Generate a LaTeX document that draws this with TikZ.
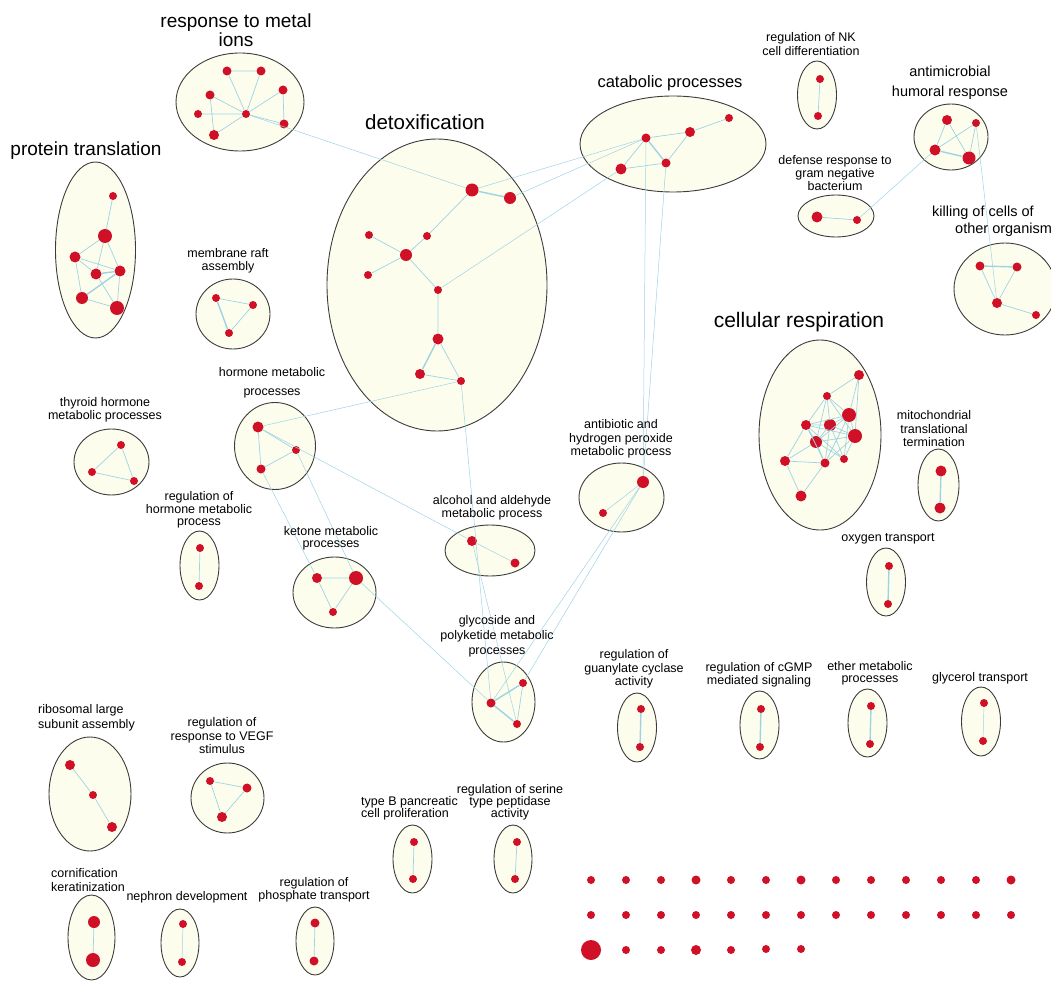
\documentclass[tikz,border=0pt]{standalone}
\usepackage{fontspec}
\setmainfont{Liberation Sans}
\definecolor{termred}{RGB}{207,16,38}
\definecolor{linkblue}{RGB}{158,211,230}
\definecolor{creamfill}{RGB}{253,253,237}
\definecolor{ringgray}{RGB}{60,60,60}
\tikzset{
    cluster/.style = {draw=ringgray, fill=creamfill, line width=0.9pt},
    link/.style = {draw=linkblue, line width=0.7pt},
    heavy link/.style = {link, line width=1.4pt},
    faint link/.style = {link, line width=0.5pt},
}
\tikzset{
    term/.style = {circle, fill=termred, inner sep=0pt, minimum size=#1},
    term/.default = 8pt,
    lbl/.style = {align=center, inner sep=0pt, font=\fontsize{12.5}{13.5}\selectfont},
    head/.style = {align=center, inner sep=0pt, font=\fontsize{#1}{#1}\selectfont},
}

\begin{document}
\begin{tikzpicture}[x=1pt, y=-1pt]
            \clip (0, 0) rectangle (1051, 981);

            \draw[cluster] (240, 102) ellipse [x radius=64, y radius=49];
            \draw[cluster] (95.5, 250) ellipse [x radius=40, y radius=88];
            \draw[cluster] (233, 314) ellipse [x radius=37, y radius=35];
            \draw[cluster] (437, 285) ellipse [x radius=110, y radius=146];
            \draw[cluster] (673, 144) ellipse [x radius=93, y radius=48];
            \draw[cluster] (817, 95) ellipse [x radius=19.5, y radius=34];
            \draw[cluster] (951, 137) ellipse [x radius=37, y radius=33];
            \draw[cluster] (836, 216) ellipse [x radius=38, y radius=21];
            \draw[cluster] (1005, 289) ellipse [x radius=51, y radius=46];
            \draw[cluster] (820, 435) ellipse [x radius=61, y radius=95];
            \draw[cluster] (938.5, 485) ellipse [x radius=20.5, y radius=36];
            \draw[cluster] (886, 582) ellipse [x radius=19.5, y radius=34];
            \draw[cluster] (111.5, 462) ellipse [x radius=37.5, y radius=33];
            \draw[cluster] (275, 446) ellipse [x radius=40.5, y radius=43.5];
            \draw[cluster] (199.5, 565.5) ellipse [x radius=19.5, y radius=34.5];
            \draw[cluster] (334.5, 592.5) ellipse [x radius=41.5, y radius=35.5];
            \draw[cluster] (490, 550.5) ellipse [x radius=45, y radius=25.5];
            \draw[cluster] (621.5, 497.5) ellipse [x radius=42.5, y radius=34.5];
            \draw[cluster] (503.5, 702) ellipse [x radius=31.5, y radius=40];
            \draw[cluster] (90, 794) ellipse [x radius=41, y radius=57];
            \draw[cluster] (227.5, 798) ellipse [x radius=36.5, y radius=35];
            \draw[cluster] (91.5, 937.5) ellipse [x radius=23.5, y radius=42.5];
            \draw[cluster] (180, 943) ellipse [x radius=19, y radius=34];
            \draw[cluster] (315, 941) ellipse [x radius=19, y radius=34];
            \draw[cluster] (412.5, 859) ellipse [x radius=19.5, y radius=34];
            \draw[cluster] (513, 859) ellipse [x radius=19, y radius=34];
            \draw[cluster] (637, 727.5) ellipse [x radius=19.5, y radius=34.5];
            \draw[cluster] (759.5, 725) ellipse [x radius=19.5, y radius=34];
            \draw[cluster] (867.5, 723) ellipse [x radius=19.5, y radius=34];
            \draw[cluster] (981, 721.5) ellipse [x radius=19.5, y radius=34.5];

            \node[term=9pt] (m1) at (227, 71) {};
            \node[term=9pt] (m2) at (261, 71) {};
            \node[term=9pt] (m3) at (210, 95) {};
            \node[term=9pt] (m4) at (283, 90) {};
            \node[term] (m5) at (198, 114) {};
            \node[term] (m6) at (246, 114) {};
            \node[term=9pt] (m7) at (284, 124) {};
            \node[term=10pt] (m8) at (214, 135) {};

            \node[term] (p1) at (113, 196) {};
            \node[term=14pt] (p2) at (105, 236) {};
            \node[term=11pt] (p3) at (75, 257) {};
            \node[term=11pt] (p4) at (96, 274) {};
            \node[term=11pt] (p5) at (120, 271) {};
            \node[term=12pt] (p6) at (82, 298) {};
            \node[term=14pt] (p7) at (117, 308) {};

            \node[term] (r1) at (216, 298) {};
            \node[term] (r2) at (253, 305) {};
            \node[term] (r3) at (229, 333) {};

            \node[term=13pt] (d1) at (472, 190) {};
            \node[term=12pt] (d2) at (510, 198) {};
            \node[term] (d3) at (369, 235) {};
            \node[term] (d4) at (427, 236) {};
            \node[term=12pt] (d5) at (406, 255) {};
            \node[term] (d6) at (368, 275) {};
            \node[term] (d7) at (438, 290) {};
            \node[term=11pt] (d8) at (438, 339) {};
            \node[term=10pt] (d9) at (420, 374) {};
            \node[term] (d10) at (461, 381) {};

            \node[term] (c1) at (729, 118) {};
            \node[term=10pt] (c2) at (690, 132) {};
            \node[term=9pt] (c3) at (646, 138) {};
            \node[term=9pt] (c4) at (666, 163) {};
            \node[term=11pt] (c5) at (621, 169) {};

            \node[term] (k1) at (820, 79) {};
            \node[term] (k2) at (818, 116) {};

            \node[term=10pt] (a1) at (947, 120) {};
            \node[term] (a2) at (976, 123) {};
            \node[term=11pt] (a3) at (935, 150) {};
            \node[term=13pt] (a4) at (969, 158) {};

            \node[term=11pt] (g1) at (817, 217) {};
            \node[term] (g2) at (857, 220) {};

            \node[term=9pt] (o1) at (980, 266) {};
            \node[term=9pt] (o2) at (1017, 267) {};
            \node[term=10pt] (o3) at (997, 303) {};
            \node[term] (o4) at (1036, 315) {};

            \node[term=10pt] (s1) at (859, 375) {};
            \node[term] (s2) at (827, 396) {};
            \node[term=14pt] (s3) at (849, 415) {};
            \node[term=10pt] (s4) at (806, 425) {};
            \node[term=12pt] (s5) at (830, 425) {};
            \node[term=14pt] (s6) at (855, 436) {};
            \node[term=12pt] (s7) at (816, 442) {};
            \node[term=10pt] (s8) at (785, 461) {};
            \node[term=9pt] (s9) at (825, 463) {};
            \node[term] (s10) at (844, 459) {};
            \node[term=11pt] (s11) at (801, 496) {};

            \node[term=11pt] (t1) at (941, 471) {};
            \node[term=11pt] (t2) at (940, 508) {};

            \node[term] (x1) at (889, 566) {};
            \node[term] (x2) at (888, 604) {};

            \node[term] (h1) at (121, 445) {};
            \node[term] (h2) at (92, 472) {};
            \node[term] (h3) at (134, 481) {};

            \node[term=11pt] (e1) at (258, 427) {};
            \node[term] (e2) at (296, 450) {};
            \node[term=9pt] (e3) at (261, 469) {};

            \node[term] (q1) at (200, 548) {};
            \node[term] (q2) at (199, 586) {};

            \node[term=10pt] (n1) at (317, 578) {};
            \node[term=14pt] (n2) at (356, 578) {};
            \node[term] (n3) at (333, 612) {};

            \node[term=10pt] (l1) at (472, 541) {};
            \node[term=9pt] (l2) at (515, 563) {};

            \node[term=12pt] (b1) at (643, 482) {};
            \node[term] (b2) at (603, 513) {};

            \node[term=9pt] (y1) at (491, 703) {};
            \node[term] (y2) at (523, 683) {};
            \node[term] (y3) at (517, 724) {};

            \node[term=10pt] (u1) at (70, 765) {};
            \node[term] (u2) at (93, 795) {};
            \node[term=10pt] (u3) at (112, 827) {};

            \node[term] (v1) at (210, 781) {};
            \node[term=9pt] (v2) at (247, 788) {};
            \node[term=10pt] (v3) at (222, 817) {};

            \node[term=12pt] (w1) at (94, 922) {};
            \node[term=14pt] (w2) at (93, 960) {};
            \node[term] (f1) at (183, 924) {};
            \node[term] (f2) at (182, 962) {};
            \node[term=9pt] (z1) at (315, 923) {};
            \node[term=9pt] (z2) at (314, 961) {};
            \node[term] (i1) at (414, 842) {};
            \node[term] (i2) at (413, 879) {};
            \node[term] (j1) at (517, 842) {};
            \node[term] (j2) at (515, 879) {};

            \node[term] (gc1) at (641, 709) {};
            \node[term] (gc2) at (640, 747) {};
            \node[term] (cg1) at (761, 709) {};
            \node[term] (cg2) at (760, 747) {};
            \node[term] (et1) at (871, 706) {};
            \node[term] (et2) at (870, 744) {};
            \node[term] (gl1) at (984, 703) {};
            \node[term] (gl2) at (983, 741) {};

            \node[term] (iso1) at (591, 880) {};  \node[term] (iso2) at (626, 880) {};
            \node[term] (iso3) at (661, 880) {};  \node[term=9pt] (iso4) at (696, 880) {};
            \node[term] (iso5) at (731, 880) {};  \node[term] (iso6) at (766, 880) {};
            \node[term=9pt] (iso7) at (801, 880) {};  \node[term] (iso8) at (836, 880) {};
            \node[term] (iso9) at (871, 880) {};  \node[term] (iso10) at (906, 880) {};
            \node[term] (iso11) at (941, 880) {};  \node[term] (iso12) at (976, 880) {};
            \node[term=9pt] (iso13) at (1011, 880) {};
            \node[term] (iso14) at (591, 915) {};  \node[term] (iso15) at (626, 915) {};
            \node[term] (iso16) at (661, 915) {};  \node[term] (iso17) at (696, 915) {};
            \node[term] (iso18) at (731, 915) {};  \node[term] (iso19) at (766, 915) {};
            \node[term] (iso20) at (801, 915) {};  \node[term] (iso21) at (836, 915) {};
            \node[term] (iso22) at (871, 915) {};  \node[term] (iso23) at (906, 915) {};
            \node[term] (iso24) at (941, 915) {};  \node[term] (iso25) at (976, 915) {};
            \node[term] (iso26) at (1011, 915) {};
            \node[term=20pt] (iso27) at (591, 950) {};  \node[term] (iso28) at (626, 950) {};
            \node[term] (iso29) at (661, 950) {};  \node[term=10pt] (iso30) at (696, 950) {};
            \node[term] (iso31) at (731, 950) {};  \node[term] (iso32) at (766, 949) {};
            \node[term] (iso33) at (801, 949) {};

            \draw[faint link] (m6) -- (d1);
            \draw[faint link] (c3) -- (d1);
            \draw[faint link] (c3) -- (d2);
            \draw[faint link] (c5) -- (d7);
            \draw[faint link] (c3) -- (b1);
            \draw[faint link] (c4) -- (b1);
            \draw[faint link] (d10) -- (e1);
            \draw[faint link] (e1) -- (l1);
            \draw[faint link] (e3) -- (n1);
            \draw[faint link] (e2) -- (n2);
            \draw[faint link] (n2) -- (y1);
            \draw[faint link] (d10) -- (y1);
            \draw[faint link] (l1) -- (y3);
            \draw[faint link] (b1) -- (y1);
            \draw[faint link] (b1) -- (y2);
            \draw[faint link] (a2) -- (o3);
            \draw[faint link] (g2) -- (a3);

            \draw[link] (m1) -- (m2) -- (m6) -- (m1);
            \draw[link] (m3) -- (m6) -- (m5);
            \draw[link] (m3) -- (m8) -- (m6) -- (m4) -- (m7) -- (m6);

            \draw[link] (p1) -- (p2) -- (p3) -- (p5) -- (p2) -- (p4) -- (p3) -- (p6) -- (p7) -- (p5);
            \draw[link] (p4) -- (p7);
            \draw[heavy link] (p4) -- (p5) -- (p6);

            \draw[link] (r1) -- (r2) -- (r3);
            \draw[heavy link] (r3) -- (r1);

            \draw[heavy link] (d1) -- (d2);
            \draw[link] (d1) -- (d4) -- (d5) -- (d3);
            \draw[link] (d6) -- (d5) -- (d7) -- (d8) -- (d10) -- (d9);
            \draw[heavy link] (d8) -- (d9);

            \draw[link] (c1) -- (c2) -- (c3) -- (c5) -- (c4) -- (c2);
            \draw[heavy link] (c3) -- (c4);

            \draw[link] (k1) -- (k2);

            \draw[link] (a1) -- (a3);
            \draw[link] (a1) -- (a4) -- (a2) -- (a3);
            \draw[heavy link] (a3) -- (a4);

            \draw[link] (g1) -- (g2);

            \draw[heavy link] (o1) -- (o2);
            \draw[link] (o1) -- (o3) -- (o2);
            \draw[link] (o3) -- (o4);

            \draw[link] (s1) -- (s2) -- (s3) -- (s1) -- (s6) -- (s3);
            \draw[link] (s2) -- (s4) -- (s5) -- (s2) -- (s7) -- (s3) -- (s5) -- (s6) -- (s2);
            \draw[link] (s4) -- (s3) (s4) -- (s6) (s4) -- (s7) (s4) -- (s9) (s4) -- (s10);
            \draw[link] (s5) -- (s7) (s5) -- (s9) (s5) -- (s10) (s3) -- (s9) (s3) -- (s10);
            \draw[link] (s6) -- (s7) (s6) -- (s9) (s6) -- (s10) (s7) -- (s9) (s7) -- (s10);
            \draw[link] (s4) -- (s8) -- (s7) (s8) -- (s9) -- (s11) -- (s8);

            \draw[heavy link] (t1) -- (t2);
            \draw[heavy link] (x1) -- (x2);

            \draw[link] (h1) -- (h2) -- (h3) -- (h1);
            \draw[link] (e1) -- (e3) -- (e2) -- (e1);
            \draw[link] (q1) -- (q2);
            \draw[link] (n1) -- (n2) -- (n3) -- (n1);
            \draw[faint link] (l1) -- (l2);
            \draw[faint link] (b1) -- (b2);
            \draw[heavy link] (y2) -- (y1) -- (y3);
            \draw[link] (y2) -- (y3);

            \draw[link] (u1) -- (u2) -- (u3);
            \draw[link] (v1) -- (v2) -- (v3) -- (v1);
            \draw[link] (w1) -- (w2);
            \draw[faint link] (f1) -- (f2);
            \draw[link] (z1) -- (z2);
            \draw[link] (i1) -- (i2);
            \draw[link] (j1) -- (j2);
            \draw[heavy link] (gc1) -- (gc2);
            \draw[heavy link] (cg1) -- (cg2);
            \draw[heavy link] (et1) -- (et2);
            \draw[faint link] (gl1) -- (gl2);

            \node[head=19] (tMetal) at (236, 30) {response to metal\\ions};
            \node[head=19] (tProtein) at (86, 151) {protein translation};
            \node[head=20.5] (tDetox) at (425, 122) {detoxification};
            \node[head=16.5] (tCatab) at (670, 83) {catabolic processes};
            \node[head=21] (tResp) at (799, 322) {cellular respiration};
            \node[align=center, inner sep=0pt, font=\fontsize{14.5}{20}\selectfont] (tAnti) at (950, 83) {antimicrobial\\humoral response};
            \node[align=left, inner sep=0pt, anchor=west, font=\fontsize{14.5}{17}\selectfont] (tKill) at (932, 221) {killing of cells of\\\hspace*{23pt}other organism};

            \node[lbl] (tRaft) at (228, 261) {membrane raft\\assembly};
            \node[lbl] (tNK) at (811, 44) {regulation of NK\\cell differentiation};
            \node[lbl, font=\fontsize{12.5}{11}\selectfont] (tDefense) at (835, 173) {defense response to\\gram negative\\bacterium};
            \node[lbl] (tMito) at (934, 429) {mitochondrial\\translational\\termination};
            \node[lbl] (tOxy) at (888, 539) {oxygen transport};
            \node[lbl] (tThyroid) at (105, 410) {thyroid hormone\\metabolic processes};
            \node[lbl, font=\fontsize{12.5}{19}\selectfont] (tHormone) at (272, 383) {hormone metabolic\\processes};
            \node[lbl, font=\fontsize{12.5}{12.5}\selectfont] (tRegHorm) at (199, 510) {regulation of\\hormone metabolic\\process};
            \node[lbl, font=\fontsize{12.5}{12}\selectfont] (tKetone) at (331, 538) {ketone metabolic\\processes};
            \node[lbl, font=\fontsize{12.5}{10}\selectfont] (tAlcohol) at (492, 508) {alcohol and aldehyde\\metabolic process};
            \node[lbl] (tAntibio) at (621, 439) {antibiotic and\\hydrogen peroxide\\metabolic process};
            \node[lbl, font=\fontsize{12.5}{15}\selectfont] (tGlyco) at (497, 636) {glycoside and\\polyketide metabolic\\processes};
            \node[lbl, align=left, anchor=west, font=\fontsize{12.5}{15}\selectfont] (tRibo) at (38, 718) {ribosomal large\\subunit assembly};
            \node[lbl] (tVEGF) at (222, 736) {regulation of\\response to VEGF\\stimulus};
            \node[lbl, align=left, anchor=west] (tCorn) at (51, 880) {cornification\\keratinization};
            \node[lbl] (tNephron) at (187, 897) {nephron development};
            \node[lbl] (tPhos) at (314, 890) {regulation of\\phosphate transport};
            \node[lbl, align=left, anchor=west, font=\fontsize{12.5}{12}\selectfont] (tPancreas) at (361, 808) {type B pancreatic\\cell proliferation};
            \node[lbl, font=\fontsize{12.5}{12}\selectfont] (tSerine) at (510, 802) {regulation of serine\\type peptidase\\activity};
            \node[lbl] (tGuanyl) at (634, 669) {regulation of\\guanylate cyclase\\activity};
            \node[lbl] (tCGMP) at (759, 675) {regulation of cGMP\\mediated signaling};
            \node[lbl, font=\fontsize{12.5}{12}\selectfont] (tEther) at (870, 673) {ether metabolic\\processes};
            \node[lbl] (tGlycerol) at (980, 678) {glycerol transport};
        \end{tikzpicture}
\end{document}
